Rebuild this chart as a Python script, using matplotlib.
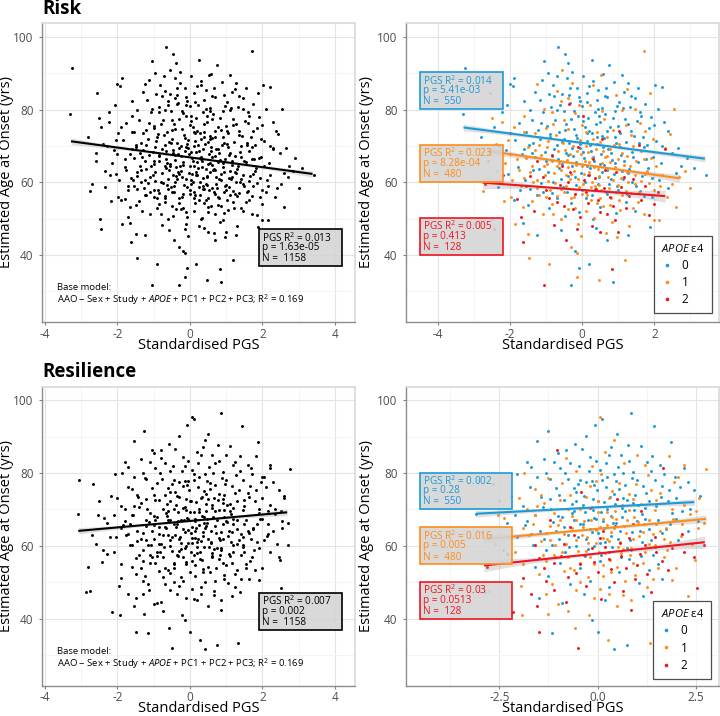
import matplotlib
matplotlib.use('Agg')
import matplotlib.pyplot as plt
from matplotlib.patches import Rectangle
from matplotlib.lines import Line2D
import numpy as np

# ---- data (Standardised PGS, estimated age at onset) ----
# Risk PGS, APOE e4 = 0 / 1 / 2
risk_e4_0 = [
    (-3.24, 91.6), (-3.31, 78.7), (-0.66, 97.2), (-0.47, 95.4), (-1.05, 93.4), (0.75, 92.3), (0.26, 93.8),
    (2.02, 86.9), (2.22, 86.2), (-1.93, 86.4), (-2.80, 72.4), (-2.23, 79.5), (-2.08, 81.4), (2.65, 69.5),
    (2.74, 64.4), (3.42, 61.9), (-1.24, 45.6), (-0.31, 31.6), (-0.08, 36.5), (0.18, 37.6), (0.86, 32.5),
    (-0.19, 41.1), (0.68, 44.0), (1.28, 45.4), (1.88, 47.8), (1.93, 55.9), (2.39, 58.4), (-2.49, 50.0),
    (-2.34, 58.7), (-2.55, 84.6), (-2.0, 87.1), (-1.88, 88.7), (-0.38, 93.0), (2.37, 74.1), (-1.6, 82.3),
    (-1.45, 79.8), (-1.3, 84.9), (-1.12, 88.2), (-0.95, 90.1), (-0.82, 86.7), (-0.71, 89.4), (-0.55, 84.2),
    (-0.42, 88.8), (-0.28, 90.5), (-0.15, 86.1), (0.02, 89.2), (0.12, 84.6), (0.31, 88.0), (0.45, 85.3),
    (0.58, 89.9), (0.7, 83.4), (0.88, 87.5), (1.02, 82.1), (1.15, 84.8), (1.32, 80.7), (1.45, 83.2),
    (1.6, 79.4), (1.75, 81.6), (1.9, 77.9), (2.1, 80.3), (-1.75, 76.4), (-1.55, 73.8), (-1.4, 77.1),
    (-1.22, 74.5), (-1.08, 79.3), (-0.98, 75.6), (-0.86, 80.8), (-0.74, 77.2), (-0.63, 73.9), (-0.51, 79.7),
    (-0.44, 76.1), (-0.33, 81.9), (-0.22, 74.8), (-0.11, 78.4), (0.0, 80.9), (0.08, 75.3), (0.17, 77.8),
    (0.27, 73.6), (0.36, 79.5), (0.48, 76.7), (0.56, 72.8), (0.64, 78.9), (0.77, 75.1), (0.91, 79.6),
    (1.05, 73.7), (1.18, 77.4), (1.34, 74.2), (1.51, 76.8), (1.68, 72.5), (1.85, 74.9), (2.05, 71.3),
    (2.28, 76.6), (-2.1, 68.9), (-1.85, 71.6), (-1.66, 67.8), (-1.48, 70.3), (-1.31, 66.9), (-1.17, 71.8),
    (-1.02, 68.4), (-0.9, 72.6), (-0.78, 69.1), (-0.66, 66.5), (-0.57, 71.2), (-0.46, 68.0), (-0.37, 70.9),
    (-0.25, 67.3), (-0.14, 72.1), (-0.05, 69.5), (0.05, 66.8), (0.14, 71.4), (0.24, 68.6), (0.33, 65.9),
    (0.42, 70.5), (0.52, 67.7), (0.61, 72.3), (0.72, 69.2), (0.82, 66.1), (0.95, 70.7), (1.08, 67.4),
    (1.22, 71.0), (1.38, 68.3), (1.55, 65.7), (1.72, 69.6), (1.96, 67.1), (2.18, 65.2), (2.48, 68.0),
    (-2.05, 62.4), (-1.78, 64.1), (-1.58, 60.7), (-1.36, 63.5), (-1.15, 59.8), (-0.96, 62.9), (-0.8, 60.2),
    (-0.65, 63.8), (-0.52, 58.6), (-0.39, 61.7), (-0.27, 64.4), (-0.16, 59.3), (-0.03, 62.6), (0.09, 60.0),
    (0.21, 63.9), (0.35, 58.1), (0.47, 61.5), (0.6, 64.7), (0.73, 59.6), (0.87, 62.2), (1.0, 57.8),
    (1.14, 61.0), (1.3, 63.6), (1.48, 58.9), (1.66, 61.8), (1.83, 64.0), (2.12, 60.5), (-1.9, 55.2),
    (-1.5, 53.7), (-1.25, 56.4), (-0.92, 52.9), (-0.69, 55.8), (-0.48, 50.6), (-0.3, 54.3), (-0.1, 51.7),
    (0.1, 55.6), (0.3, 49.9), (0.5, 53.2), (0.7, 56.9), (0.95, 51.4), (1.2, 54.7), (1.45, 52.0),
    (1.72, 56.2), (-0.58, 46.8), (0.38, 47.3), (-1.65, 48.9), (2.9, 66.7), (3.1, 63.8), (-2.6, 66.0),
    (-2.45, 75.2), (1.1, 89.5), (0.4, 82.8), (-0.1, 83.5), (1.55, 86.0),
    (-1.18, 82.6), (-0.93, 84.4), (-0.61, 81.2), (-0.35, 85.9), (-0.07, 82.3), (0.19, 86.4), (0.43, 80.1),
    (0.67, 86.0), (0.97, 81.0), (1.26, 87.3), (-1.35, 70.9), (-1.13, 76.3), (-0.88, 73.4), (-0.69, 79.9),
    (-0.49, 74.3), (-0.31, 77.5), (-0.17, 73.0), (0.03, 77.0), (0.2, 74.1), (0.38, 76.1), (0.55, 80.6),
    (0.69, 74.0), (0.84, 77.6), (1.0, 75.5), (1.12, 80.5), (1.28, 76.0), (1.44, 72.8), (1.62, 78.2),
    (1.8, 70.4), (2.0, 75.7), (-1.6, 69.2), (-1.38, 68.2), (-1.2, 63.7), (-1.0, 65.8), (-0.84, 67.2),
    (-0.7, 70.3), (-0.55, 65.0), (-0.4, 67.6), (-0.29, 69.4), (-0.18, 65.7), (-0.07, 70.6), (0.03, 68.3),
    (0.12, 64.5), (0.22, 70.2), (0.31, 67.0), (0.4, 72.6), (0.5, 65.0), (0.58, 69.7), (0.68, 63.4),
    (0.79, 68.0), (0.92, 65.2), (1.04, 69.6), (1.16, 66.0), (1.27, 62.5), (1.41, 66.9), (1.58, 70.9),
    (1.77, 66.4), (2.2, 70.1), (2.6, 62.6), (-2.3, 70.0), (-1.45, 58.2), (-1.1, 57.3), (-0.85, 57.0),
    (-0.6, 60.8), (-0.43, 57.2), (-0.21, 61.4), (0.0, 58.0), (0.16, 62.0), (0.28, 56.5), (0.43, 59.4),
    (0.56, 62.8), (0.66, 57.2), (0.8, 60.9), (0.97, 59.0), (1.1, 63.0), (1.24, 56.8), (1.38, 60.1),
    (1.6, 57.6), (1.92, 61.1), (-1.72, 58.0), (-0.36, 84.0), (0.14, 82.0), (0.62, 83.8), (-0.78, 83.9),
    (1.36, 83.9), (-0.5, 71.8), (0.9, 72.4), (0.13, 73.6), (-0.22, 79.6), (0.46, 78.2),
]
risk_e4_1 = [
    (1.70, 96.2), (-2.23, 76.5), (2.42, 73.3), (-1.47, 39.2), (-0.91, 37.6), (-0.14, 33.9), (0.46, 33.2),
    (1.19, 38.7), (-0.31, 42.1), (0.97, 44.8), (2.0, 49.5), (2.14, 49.5), (1.72, 51.3), (-2.17, 54.8),
    (-1.49, 45.8), (-0.27, 87.3), (1.88, 84.6), (0.31, 86.9), (-1.97, 55.9), (-1.65, 53.3), (-1.86, 48.5),
    (-2.6, 68.2), (-2.35, 63.1), (-2.05, 71.7), (-1.8, 66.4), (-1.62, 61.2), (-1.5, 69.8), (-1.38, 64.6),
    (-1.26, 58.3), (-1.14, 67.5), (-1.03, 62.0), (-0.94, 71.3), (-0.84, 65.8), (-0.75, 59.9), (-0.67, 68.7),
    (-0.58, 63.3), (-0.5, 57.4), (-0.42, 66.2), (-0.35, 60.8), (-0.26, 70.0), (-0.18, 64.9), (-0.09, 58.7),
    (-0.02, 67.8), (0.06, 62.4), (0.13, 56.6), (0.2, 65.5), (0.28, 60.1), (0.37, 69.3), (0.44, 63.7),
    (0.53, 57.9), (0.62, 66.9), (0.71, 61.4), (0.8, 55.7), (0.9, 64.3), (1.0, 59.2), (1.11, 68.1),
    (1.23, 62.7), (1.36, 57.1), (1.5, 65.8), (1.64, 60.4), (1.8, 63.2), (1.98, 58.0), (2.2, 61.9),
    (2.5, 59.6), (2.69, 61.5), (-1.9, 75.1), (-1.6, 78.3), (-1.3, 73.6), (-1.05, 80.2), (-0.8, 76.0),
    (-0.6, 82.5), (-0.4, 74.7), (-0.2, 79.1), (0.0, 75.8), (0.22, 81.3), (0.4, 73.9), (0.6, 77.5),
    (0.85, 74.4), (1.1, 79.8), (1.35, 72.9), (1.6, 76.2), (1.95, 72.0), (2.3, 69.4), (-0.7, 85.1),
    (0.95, 84.0), (-1.4, 54.9), (-1.1, 51.2), (-0.85, 54.1), (-0.6, 49.8), (-0.38, 52.6), (-0.12, 48.4),
    (0.1, 52.0), (0.34, 50.1), (0.58, 53.6), (0.82, 49.1), (1.05, 52.4), (1.3, 48.0), (1.55, 54.5),
    (-0.04, 45.2), (0.65, 46.1), (-1.2, 70.4), (-0.98, 65.0), (-0.72, 72.9), (-0.48, 69.0), (-0.3, 62.3),
    (-0.06, 71.6), (0.16, 68.4), (0.33, 64.2), (0.5, 71.0), (0.68, 67.2), (0.88, 70.3), (1.16, 64.9),
    (1.42, 69.9), (1.7, 66.3), (2.05, 64.6), (-1.7, 59.0), (-1.45, 62.8), (-1.2, 56.5), (-0.95, 60.3),
    (-0.7, 56.2), (-0.45, 59.1), (-0.22, 56.0), (0.02, 59.6), (0.24, 55.1), (0.47, 59.3), (0.74, 58.5),
    (1.02, 55.0), (1.28, 60.0), (1.58, 57.3), (1.85, 59.8), (2.35, 55.9), (2.6, 53.1), (-2.4, 70.6),
    (-2.15, 65.2), (-1.95, 60.7), (3.0, 58.4), (-0.55, 91.0), (0.52, 89.6), (-1.25, 87.0), (2.55, 80.1),
    (2.85, 63.0), (-2.75, 57.5), (-2.5, 77.8), (1.25, 85.7), (-0.15, 40.4),
    (-1.25, 60.6), (-1.07, 64.4), (-0.89, 57.8), (-0.77, 62.6), (-0.63, 65.4), (-0.46, 61.9), (-0.33, 67.9),
    (-0.24, 63.1), (-0.11, 61.0), (0.0, 64.6), (0.1, 70.1), (0.18, 62.9), (0.27, 66.8), (0.36, 58.9),
    (0.46, 61.8), (0.55, 65.3), (0.66, 63.6), (0.76, 69.2), (0.86, 60.6), (0.98, 66.5), (1.08, 61.2),
    (1.2, 57.6), (1.33, 64.6), (1.47, 62.0), (1.62, 68.6), (1.75, 62.2), (-1.55, 66.7), (-1.75, 63.4),
    (-2.0, 67.9), (-1.3, 68.9), (-0.97, 69.6), (-0.7, 64.6), (-0.52, 70.7), (-0.38, 64.3), (-0.15, 68.7),
    (0.08, 66.0), (0.3, 71.8), (0.57, 68.6), (0.78, 65.6), (1.03, 70.6), (1.25, 67.2), (1.45, 59.6),
    (1.9, 66.8), (2.15, 59.1), (-1.35, 60.1), (-1.0, 56.0), (-0.6, 58.1), (-0.3, 55.8), (0.0, 56.8),
    (0.25, 58.6), (0.5, 55.7), (0.78, 53.7), (1.1, 56.4), (1.4, 52.9), (-0.8, 51.2), (-0.2, 53.0),
    (0.4, 54.2), (0.95, 57.4), (-1.6, 73.8), (-1.0, 74.9), (-0.5, 77.3), (0.1, 73.8), (0.7, 72.5),
    (1.2, 75.8), (1.75, 74.2), (-0.1, 81.4), (0.55, 79.6), (-0.85, 79.4), (1.45, 80.2), (-0.4, 83.2),
]
risk_e4_2 = [
    (-1.99, 73.7), (1.02, 74.0), (1.56, 70.4), (2.30, 69.1), (-0.36, 81.5), (-1.63, 43.5), (-1.05, 31.6),
    (0.82, 36.0), (1.00, 46.3), (-2.7, 59.5), (-2.2, 62.0), (-1.8, 55.3), (-1.55, 58.9), (-1.33, 52.1),
    (-1.1, 61.4), (-0.92, 55.6), (-0.78, 48.2), (-0.62, 59.2), (-0.5, 53.5), (-0.33, 62.7), (-0.2, 56.9),
    (-0.07, 50.5), (0.04, 60.5), (0.15, 54.2), (0.26, 47.9), (0.38, 58.1), (0.5, 51.8), (0.63, 63.5),
    (0.76, 56.0), (0.9, 49.6), (1.07, 58.7), (1.22, 53.0), (1.4, 60.8), (1.62, 55.1), (1.85, 51.0),
    (2.1, 57.4), (-0.85, 67.5), (-0.12, 69.8), (0.55, 71.9), (-1.25, 66.0), (0.3, 66.4), (-0.45, 44.0),
    (0.02, 78.2), (-2.45, 47.0), (0.68, 51.2),
    (-1.0, 57.9), (-0.7, 54.6), (-0.4, 60.0), (-0.25, 52.5), (0.1, 57.3), (0.2, 62.0), (0.45, 55.0),
    (0.6, 58.4), (0.85, 53.5), (1.15, 61.5), (1.3, 56.3), (-1.45, 61.8), (-0.55, 64.6), (0.35, 61.2),
    (0.95, 62.7), (1.75, 58.9), (-0.15, 47.0), (0.5, 46.4), (-1.7, 50.4), (2.0, 54.1),
]

# Resilience PGS, APOE e4 = 0 / 1 / 2
res_e4_0 = [
    (0.12, 94.9), (0.86, 96.4), (1.44, 92.9), (-0.07, 93.2), (-1.27, 91.4), (-1.54, 88.8), (-0.58, 88.0),
    (1.88, 88.5), (1.39, 84.6), (-2.06, 79.6), (-2.19, 73.8), (-1.15, 36.2), (0.42, 31.6), (0.74, 32.7),
    (-0.13, 39.7), (0.0, 36.4), (-1.49, 45.6), (1.63, 51.0), (-3.05, 78.2), (-2.67, 77.1), (-2.5, 72.4),
    (-3.1, 68.8), (-2.86, 47.2), (-1.8, 83.0), (-1.0, 85.6), (-0.3, 90.2), (0.35, 87.1), (0.6, 85.0),
    (1.1, 87.5), (2.3, 77.5), (2.45, 75.4), (-1.9, 71.0), (-1.72, 76.2), (-1.58, 68.5), (-1.44, 73.4),
    (-1.3, 80.1), (-1.18, 70.2), (-1.06, 75.8), (-0.95, 81.4), (-0.85, 72.6), (-0.76, 78.3), (-0.66, 68.9),
    (-0.56, 74.7), (-0.47, 82.0), (-0.38, 71.1), (-0.29, 77.6), (-0.2, 84.3), (-0.11, 69.7), (-0.02, 75.2),
    (0.07, 80.8), (0.16, 72.0), (0.25, 78.9), (0.34, 68.3), (0.43, 74.1), (0.52, 81.7), (0.61, 70.5),
    (0.7, 76.8), (0.8, 83.2), (0.9, 71.8), (1.0, 78.0), (1.12, 68.7), (1.24, 74.4), (1.37, 80.6),
    (1.5, 70.9), (1.65, 76.3), (1.8, 72.3), (1.98, 78.8), (2.15, 69.6), (2.6, 73.6), (-2.3, 66.4),
    (-2.05, 62.5), (-1.85, 65.7), (-1.65, 60.3), (-1.47, 64.1), (-1.3, 58.9), (-1.14, 66.6), (-0.99, 61.8),
    (-0.86, 65.3), (-0.72, 59.6), (-0.6, 67.0), (-0.49, 62.4), (-0.37, 65.9), (-0.25, 59.0), (-0.14, 63.7),
    (-0.04, 67.4), (0.06, 60.9), (0.17, 64.8), (0.28, 58.4), (0.4, 66.2), (0.51, 62.0), (0.63, 67.8),
    (0.75, 59.3), (0.87, 63.9), (1.0, 66.7), (1.14, 61.1), (1.3, 64.5), (1.47, 59.8), (1.64, 63.4),
    (1.85, 66.1), (2.05, 61.6), (2.3, 64.0), (2.55, 66.8), (-1.6, 54.3), (-1.25, 51.7), (-0.95, 55.2),
    (-0.7, 49.6), (-0.45, 53.8), (-0.2, 50.4), (0.05, 55.9), (0.3, 48.7), (0.55, 52.9), (0.8, 56.5),
    (1.05, 49.8), (1.3, 53.5), (1.55, 55.1), (-0.9, 44.3), (0.2, 45.1), (-0.35, 46.9), (1.15, 46.2),
    (-1.35, 83.9), (-0.8, 86.3), (0.5, 90.8), (-0.45, 78.1), (0.95, 74.0), (-1.7, 81.7), (0.22, 76.2),
    (-0.12, 72.9), (0.66, 73.1), (1.9, 69.0), (-2.4, 58.8), (-2.7, 63.0), (1.6, 82.2), (2.2, 81.5),
    (-0.6, 75.9), (0.1, 69.4), (0.45, 71.6), (-1.0, 68.3), (1.2, 70.5), (-0.25, 67.0), (2.0, 73.2),
    (-1.2, 78.4), (-0.98, 73.9), (-0.82, 80.1), (-0.64, 71.5), (-0.5, 77.0), (-0.35, 73.6), (-0.22, 80.6),
    (-0.09, 76.6), (0.02, 72.3), (0.12, 78.2), (0.21, 82.6), (0.32, 73.3), (0.41, 79.6), (0.55, 75.7),
    (0.64, 80.0), (0.76, 72.6), (0.88, 78.6), (1.02, 71.2), (1.16, 76.3), (1.3, 72.2), (1.45, 78.0),
    (1.62, 73.5), (1.82, 75.4), (2.1, 76.2), (-1.55, 78.8), (-1.4, 70.7), (-1.2, 72.8), (-1.05, 64.1),
    (-0.9, 67.8), (-0.75, 63.0), (-0.6, 69.6), (-0.44, 66.0), (-0.32, 69.3), (-0.2, 64.5), (-0.08, 67.7),
    (0.02, 63.5), (0.14, 66.9), (0.25, 70.1), (0.35, 62.7), (0.46, 66.4), (0.58, 64.2), (0.7, 69.5),
    (0.82, 61.7), (0.94, 69.8), (1.07, 64.1), (1.2, 67.3), (1.35, 61.5), (1.55, 67.2), (1.75, 64.6),
    (2.0, 67.4), (-1.7, 63.3), (-1.35, 61.9), (-1.15, 60.3), (-0.82, 58.2), (-0.55, 60.0), (-0.33, 57.1),
    (-0.1, 60.0), (0.1, 57.5), (0.38, 59.7), (0.6, 56.9), (0.85, 58.9), (1.1, 57.3), (1.4, 57.4),
    (-0.7, 82.6), (-0.05, 83.3), (0.3, 84.8), (0.78, 87.6), (-1.1, 82.9), (1.25, 83.1), (-0.4, 86.6),
    (0.9, 80.4), (-0.15, 77.9), (0.48, 77.8), (-0.55, 72.2), (1.7, 79.7), (-2.1, 68.4), (-1.8, 66.8),
    (2.35, 70.1), (0.2, 61.0), (-0.3, 62.0),
]
res_e4_1 = [
    (0.06, 95.5), (0.42, 89.1), (2.75, 81.0), (2.21, 82.3), (1.82, 84.6), (2.59, 73.1), (-1.87, 80.0),
    (-2.38, 67.7), (-2.53, 68.4), (-1.92, 41.0), (0.27, 34.2), (-0.22, 41.0), (-0.58, 37.5), (1.33, 33.4),
    (-1.26, 41.2), (2.48, 56.0), (-2.75, 47.6), (-2.43, 55.6), (-2.1, 58.2), (-1.75, 62.9), (-1.55, 70.8),
    (-1.4, 57.6), (-1.22, 65.4), (-1.08, 60.1), (-0.96, 72.5), (-0.85, 63.2), (-0.74, 57.0), (-0.64, 68.2),
    (-0.54, 61.5), (-0.44, 55.4), (-0.34, 66.8), (-0.24, 60.7), (-0.14, 70.6), (-0.05, 64.3), (0.04, 58.2),
    (0.13, 67.5), (0.23, 61.9), (0.32, 56.1), (0.42, 65.0), (0.52, 59.7), (0.62, 71.3), (0.72, 63.6),
    (0.83, 57.5), (0.94, 68.0), (1.06, 62.6), (1.18, 66.1), (1.31, 60.5), (1.45, 69.7), (1.6, 64.2),
    (1.76, 58.9), (1.93, 67.3), (2.12, 62.8), (2.35, 68.7), (2.55, 64.9), (-1.6, 75.6), (-1.25, 78.7),
    (-0.9, 77.3), (-0.55, 80.5), (-0.2, 76.4), (0.1, 79.8), (0.38, 75.0), (0.68, 82.7), (0.98, 76.9),
    (1.28, 79.4), (1.6, 74.5), (1.95, 77.6), (-0.8, 84.2), (0.2, 85.8), (-1.5, 52.3), (-1.15, 49.5),
    (-0.85, 53.0), (-0.55, 47.8), (-0.25, 51.4), (0.05, 48.2), (0.35, 52.7), (0.65, 46.6), (0.95, 51.9),
    (1.25, 48.8), (1.55, 53.8), (1.9, 50.6), (-1.0, 44.1), (0.5, 43.5), (-0.1, 45.6), (-2.0, 73.0),
    (-1.35, 71.8), (-0.7, 73.9), (0.0, 72.2), (0.8, 74.1), (1.5, 72.6), (2.2, 71.1), (-1.9, 54.9),
    (-1.3, 55.8), (-0.6, 53.4), (0.15, 54.6), (0.9, 55.3), (1.7, 56.9), (2.0, 53.8), (-2.2, 62.4),
    (-1.65, 66.0), (-1.0, 65.6), (-0.4, 63.0), (0.25, 65.7), (0.75, 67.1), (1.4, 63.3), (1.85, 61.0),
    (2.4, 60.4), (2.7, 66.2), (-0.3, 58.5), (0.6, 57.9), (-1.1, 69.0), (0.45, 69.6), (1.1, 71.4),
    (-0.45, 70.1), (2.05, 79.0), (-2.6, 60.6), (1.0, 84.9), (-1.45, 61.2), (-0.9, 58.4), (0.3, 61.3),
    (1.2, 58.3), (-0.1, 55.1), (-1.95, 49.1), (2.3, 46.2), (-0.75, 42.2), (0.85, 45.0),
    (-1.3, 63.4), (-1.1, 57.5), (-0.95, 67.0), (-0.8, 60.4), (-0.66, 64.9), (-0.5, 58.6), (-0.38, 65.1),
    (-0.27, 62.3), (-0.17, 67.2), (-0.05, 60.9), (0.05, 65.3), (0.15, 62.1), (0.25, 69.3), (0.35, 63.9),
    (0.47, 67.4), (0.57, 61.1), (0.68, 65.4), (0.8, 69.8), (0.91, 62.0), (1.03, 66.5), (1.15, 63.8),
    (1.3, 67.0), (1.48, 65.9), (1.68, 61.8), (1.9, 70.2), (2.15, 66.0), (-1.6, 68.4), (-1.9, 64.9),
    (-1.45, 74.0), (-0.75, 70.0), (-0.3, 73.5), (0.3, 73.0), (0.9, 72.8), (1.35, 75.2), (-0.05, 77.9),
    (0.55, 77.3), (-1.05, 57.0), (-0.7, 54.0), (-0.2, 56.9), (0.2, 58.0), (0.5, 54.2), (0.85, 59.3),
    (1.15, 55.4), (1.45, 60.2), (-0.45, 50.2), (0.15, 51.6), (0.7, 50.3), (1.4, 51.0), (-1.3, 46.9),
    (0.3, 46.9), (-0.15, 82.0), (1.2, 82.1), (-1.8, 70.1), (2.5, 69.5), (0.0, 69.2), (-0.55, 67.2),
    (0.65, 59.0), (1.75, 64.8), (-1.2, 61.5), (0.38, 67.9),
]
res_e4_2 = [
    (-1.04, 86.4), (1.67, 81.4), (-0.41, 74.9), (-2.15, 41.8), (-1.48, 36.4), (-0.49, 31.9), (0.86, 42.4),
    (-1.55, 43.5), (2.52, 48.5), (1.37, 47.2), (-2.8, 54.3), (-2.3, 57.8), (-1.9, 51.1), (-1.6, 60.2),
    (-1.35, 53.9), (-1.12, 48.0), (-0.92, 57.2), (-0.75, 51.5), (-0.6, 62.9), (-0.45, 55.0), (-0.3, 48.9),
    (-0.15, 59.4), (0.0, 52.8), (0.14, 64.1), (0.28, 56.3), (0.42, 50.1), (0.57, 60.7), (0.72, 54.0),
    (0.9, 66.0), (1.08, 57.8), (1.25, 52.2), (1.45, 62.4), (1.65, 55.9), (1.9, 59.5), (2.15, 63.2),
    (2.45, 57.0), (-0.2, 70.3), (0.5, 72.8), (-1.2, 67.1), (1.1, 69.5), (0.1, 45.5), (-0.8, 44.6),
    (2.7, 60.1), (0.65, 47.5), (-1.7, 46.9),
    (-1.1, 55.4), (-0.85, 60.5), (-0.55, 52.6), (-0.35, 57.6), (-0.1, 55.5), (0.2, 59.8), (0.35, 53.6),
    (0.6, 57.3), (0.8, 62.1), (1.0, 54.8), (1.2, 60.3), (1.5, 58.4), (1.8, 53.3), (-1.5, 56.7),
    (-0.7, 65.3), (0.05, 62.1), (0.45, 65.5), (-1.3, 50.4), (0.95, 50.9), (2.2, 58.2),
]

apoe_levels = ['0', '1', '2']
n_all = 1158
n_grp = [550, 480, 128]
base_r2 = '0.169'

# fitted lines (end points)
risk_fit_all_x = [-3.28, 3.38]
risk_fit_all_y = [71.3, 62.3]
risk_fit_grp_x = [[-3.29, 3.40], [-2.60, 2.69], [-2.76, 2.30]]
risk_fit_grp_y = [[75.1, 66.5], [68.6, 61.1], [59.9, 56.2]]
res_fit_all_x = [-3.08, 2.68]
res_fit_all_y = [64.1, 69.2]
res_fit_grp_x = [[-3.10, 2.46], [-2.90, 2.76], [-2.89, 2.73]]
res_fit_grp_y = [[68.8, 72.0], [61.8, 67.4], [54.6, 61.0]]

risk_r2_all, risk_p_all = '0.013', '1.63e-05'
risk_r2_grp = ['0.014', '0.023', '0.005']
risk_p_grp = ['5.41e-03', '8.28e-04', '0.413']
res_r2_all, res_p_all = '0.007', '0.002'
res_r2_grp = ['0.002', '0.016', '0.03']
res_p_grp = ['0.28', '0.005', '0.0513']

# ---- styling ----
plt.rcParams['font.family'] = ['Open Sans', 'DejaVu Sans']
plt.rcParams['mathtext.fontset'] = 'custom'
plt.rcParams['mathtext.rm'] = 'Open Sans'
plt.rcParams['mathtext.it'] = 'Open Sans:italic'
plt.rcParams['mathtext.bf'] = 'Open Sans:bold'
plt.rcParams['axes.unicode_minus'] = False

grp_colors = ['#1a9bd7', '#ff8c1a', '#f0141e']
box_fill = (0.83, 0.83, 0.83, 0.88)


def style_axes(ax, xlim, ylim, xmajor, xminor, xlabels, ylab_x):
    ax.set_xlim(xlim)
    ax.set_ylim(ylim)
    ax.set_xticks(xmajor)
    ax.set_xticklabels(xlabels)
    ax.set_xticks(xminor, minor=True)
    ax.set_yticks([40, 60, 80, 100])
    ax.set_yticks([30, 50, 70, 90], minor=True)
    ax.grid(which='major', color='#e4e4e4', lw=0.8)
    ax.grid(which='minor', color='#f2f2f2', lw=0.6)
    ax.set_axisbelow(True)
    ax.tick_params(which='minor', length=0)
    ax.tick_params(which='major', length=2.5, width=0.8, color='#808080',
                   labelsize=8.5, labelcolor='#4d4d4d')
    ax.tick_params(axis='x', pad=1.5)
    ax.tick_params(axis='y', pad=3.5)
    for s in ['left', 'bottom']:
        ax.spines[s].set_color('#8c8c8c')
        ax.spines[s].set_linewidth(1.0)
    for s in ['top', 'right']:
        ax.spines[s].set_color('#d9d9d9')
        ax.spines[s].set_linewidth(1.2)
    ax.set_xlabel('Standardised PGS', fontsize=10.5)
    ax.set_ylabel('Estimated Age at Onset (yrs)', fontsize=10.5)
    ax.xaxis.set_label_coords(0.5, -0.052)
    ax.yaxis.set_label_coords(ylab_x, 0.5)


def fit_line(ax, xs, ys, color, se_end, se_mid):
    xx = np.linspace(xs[0], xs[1], 40)
    yy = np.interp(xx, xs, ys)
    t = (xx - xx.mean()) / (xx[-1] - xx.mean())
    hw = se_mid + (se_end - se_mid) * t ** 2
    ax.fill_between(xx, yy - hw, yy + hw, color='#999999', alpha=0.3, lw=0, zorder=3)
    ax.plot(xs, ys, color=color, lw=1.5, zorder=4, solid_capstyle='butt')


def stat_box(ax, x0, x1, y0, y1, r2, p, n, color):
    ax.add_patch(Rectangle((x0, y0), x1 - x0, y1 - y0, transform=ax.transAxes,
                           facecolor=box_fill, edgecolor=color, lw=1.2, zorder=6))
    h = y1 - y0
    lines = ['PGS R$^{2}$ = ' + r2, 'p = ' + p, 'N =  ' + str(n)]
    for frac, txt in zip([0.23, 0.50, 0.80], lines):
        ax.text(x0 + 0.011, y1 - frac * h, txt, transform=ax.transAxes, color=color,
                fontsize=7.2, va='center', ha='left', zorder=7)


def base_model(ax):
    ax.text(0.047, 0.115, 'Base model:', transform=ax.transAxes, fontsize=6.8, va='center')
    ax.text(0.047, 0.074, 'AAO ~ Sex + Study + $\\mathit{APOE}$ + PC1 + PC2 + PC3; R$^2$ = ' + base_r2,
            transform=ax.transAxes, fontsize=6.8, va='center')


def apoe_legend(ax, anchor):
    handles = [Line2D([], [], ls='', marker='o', markersize=2.6, markeredgewidth=0, color=c)
               for c in grp_colors]
    leg = ax.legend(handles, apoe_levels, title='$\\mathit{APOE}$ ε4', loc='lower right',
                    bbox_to_anchor=anchor, frameon=True, fancybox=False, fontsize=8.5,
                    title_fontsize=8, handlelength=1.0, handletextpad=0.7, labelspacing=0.35,
                    borderpad=0.6, borderaxespad=0)
    leg.get_frame().set_edgecolor('#222222')
    leg.get_frame().set_linewidth(0.9)
    leg._legend_box.align = 'left'
    leg.set_zorder(8)


fig = plt.figure(figsize=(7.2, 7.16), dpi=100)
ax_tl = fig.add_axes([0.0583, 0.5503, 0.4347, 0.4176])
ax_tr = fig.add_axes([0.5635, 0.5503, 0.4351, 0.4176])
ax_bl = fig.add_axes([0.0583, 0.0423, 0.4347, 0.4172])
ax_br = fig.add_axes([0.5635, 0.0423, 0.4351, 0.4172])

rows = [
    (ax_tl, ax_tr, [risk_e4_0, risk_e4_1, risk_e4_2], risk_fit_all_x, risk_fit_all_y,
     risk_fit_grp_x, risk_fit_grp_y, risk_r2_all, risk_p_all, risk_r2_grp, risk_p_grp),
    (ax_bl, ax_br, [res_e4_0, res_e4_1, res_e4_2], res_fit_all_x, res_fit_all_y,
     res_fit_grp_x, res_fit_grp_y, res_r2_all, res_p_all, res_r2_grp, res_p_grp),
]

for (axl, axr, groups, fax, fay, fgx, fgy, r2a, pa, r2g, pg) in rows:
    pts = np.array([pt for g in groups for pt in g])
    axl.scatter(pts[:, 0], pts[:, 1], s=4.5, color='black', lw=0, zorder=2)
    fit_line(axl, fax, fay, 'black', 0.9, 0.25)
    stat_box(axl, 0.693, 0.958, 0.188, 0.310, r2a, pa, n_all, 'black')
    base_model(axl)
    for g, c in zip(groups, grp_colors):
        arr = np.array(g)
        axr.scatter(arr[:, 0], arr[:, 1], s=4.5, color=c, lw=0, zorder=2)
    for gx, gy, c, se in zip(fgx, fgy, grp_colors, [0.9, 1.1, 1.7]):
        fit_line(axr, gx, gy, c, se, 0.35)

# panel styles
style_axes(ax_tl, (-4.08, 4.55), (21.5, 103.9), [-4, -2, 0, 2, 4], [-3, -1, 1, 3],
           ['-4', '-2', '0', '2', '4'], -0.089)
style_axes(ax_tr, (-4.89, 3.79), (21.5, 103.9), [-4, -2, 0, 2], [-3, -1, 1, 3],
           ['-4', '-2', '0', '2'], -0.100)
style_axes(ax_bl, (-4.08, 4.55), (21.6, 103.6), [-4, -2, 0, 2, 4], [-3, -1, 1, 3],
           ['-4', '-2', '0', '2', '4'], -0.089)
style_axes(ax_br, (-4.88, 3.09), (21.6, 103.6), [-2.5, 0.0, 2.5], [-3.75, -1.25, 1.25],
           ['-2.5', '0.0', '2.5'], -0.100)

# group stat boxes
tr_boxes = [(0.711, 0.835), (0.468, 0.592), (0.224, 0.349)]
for (y0, y1), c, r2, p, n in zip(tr_boxes, grp_colors, risk_r2_grp, risk_p_grp, n_grp):
    stat_box(ax_tr, 0.0456, 0.3116, y0, y1, r2, p, n, c)
br_boxes = [(0.591, 0.713), (0.406, 0.530), (0.223, 0.348)]
for (y0, y1), c, r2, p, n in zip(br_boxes, grp_colors, res_r2_grp, res_p_grp, n_grp):
    stat_box(ax_br, 0.0456, 0.3382, y0, y1, r2, p, n, c)

apoe_legend(ax_tr, (0.977, 0.029))
apoe_legend(ax_br, (0.974, 0.023))

fig.text(0.059, 1 - 14 / 716, 'Risk', fontsize=13.5, fontweight='bold', va='baseline', ha='left')
fig.text(0.059, 1 - 377 / 716, 'Resilience', fontsize=13.5, fontweight='bold', va='baseline', ha='left')

fig.savefig('out.png', dpi=100, facecolor='white')
